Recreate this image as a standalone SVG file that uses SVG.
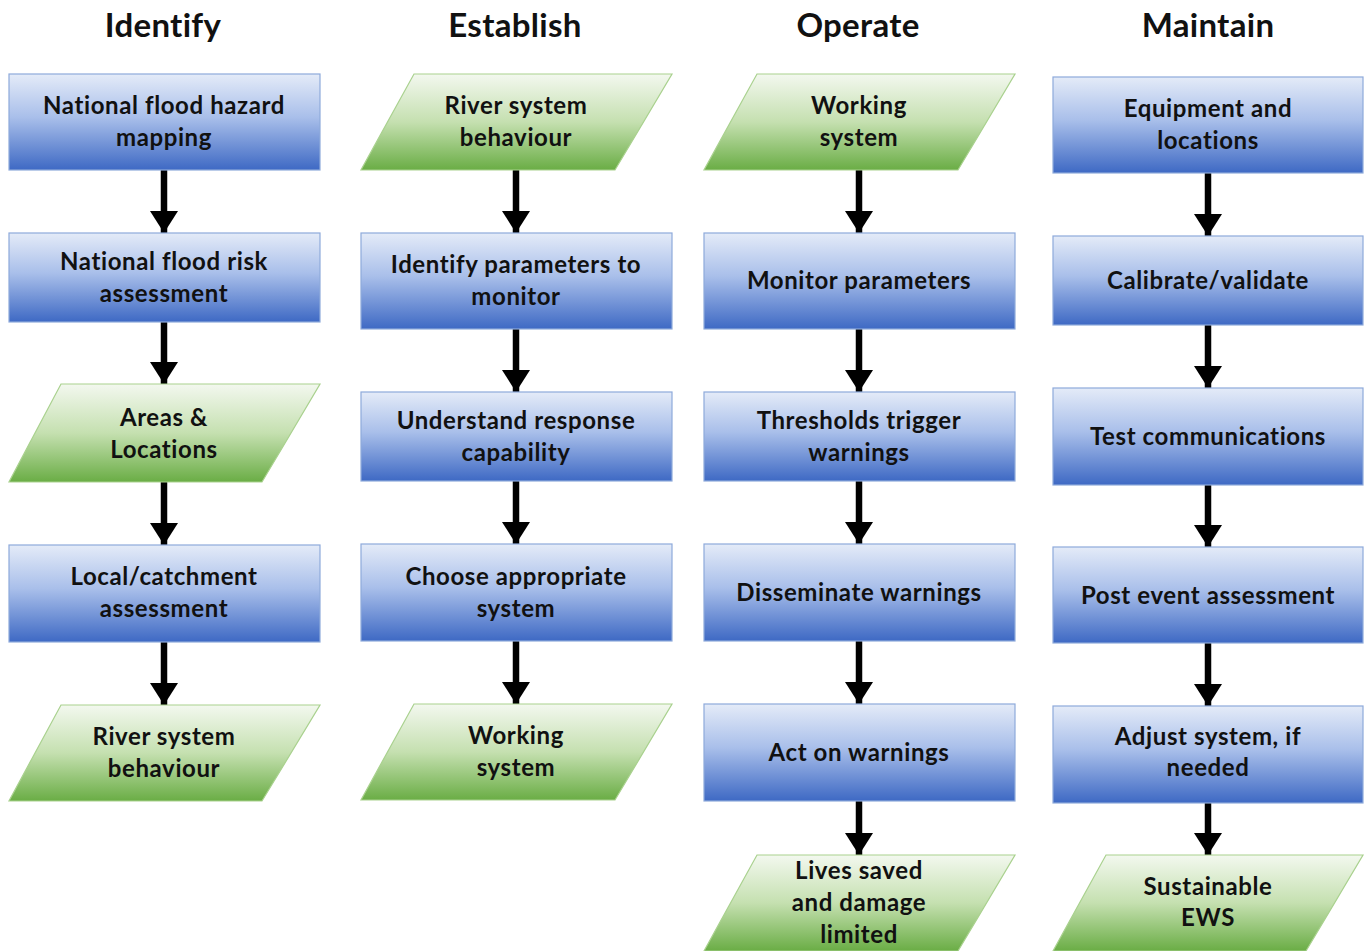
<svg xmlns="http://www.w3.org/2000/svg" width="1366" height="951" viewBox="0 0 1366 951">
<defs>
<linearGradient id="gb" x1="0" y1="0" x2="0" y2="1">
<stop offset="0" stop-color="#e4ebf8"/>
<stop offset="0.45" stop-color="#a9bfea"/>
<stop offset="1" stop-color="#3e69c4"/>
</linearGradient>
<linearGradient id="gg" x1="0" y1="0" x2="0" y2="1">
<stop offset="0" stop-color="#f3f8ef"/>
<stop offset="0.5" stop-color="#c5e0b0"/>
<stop offset="1" stop-color="#6aad45"/>
</linearGradient>
<marker id="ah" markerUnits="userSpaceOnUse" markerWidth="22" markerHeight="28" viewBox="0 0 22 28" refX="22" refY="14" orient="auto">
<path d="M0,0 L22,14 L0,28 z" fill="#000"/>
</marker>
</defs>
<style>
.box{fill:url(#gb);stroke:#8eaadb;stroke-width:1.2}
.para{fill:url(#gg);stroke:#a9d18e;stroke-width:1.2}
text{font-family:Lato,"Open Sans","Liberation Sans",sans-serif;font-weight:bold;fill:#111;text-anchor:middle}
.t{font-size:24px;letter-spacing:0.6px}
.h{font-size:33px;letter-spacing:0.3px}
.arr{stroke:#000;stroke-width:6.5;marker-end:url(#ah)}
</style>
<rect width="1366" height="951" fill="#fff"/>
<g id="headers">
<text class="h" x="163" y="37">Identify</text>
<text class="h" x="515" y="37">Establish</text>
<text class="h" x="858" y="37">Operate</text>
<text class="h" x="1208" y="37">Maintain</text>
</g>
<g id="connectors">
<line class="arr" x1="164" y1="170" x2="164" y2="233"/>
<line class="arr" x1="164" y1="322" x2="164" y2="384"/>
<line class="arr" x1="164" y1="482" x2="164" y2="545"/>
<line class="arr" x1="164" y1="642" x2="164" y2="705"/>
<line class="arr" x1="516" y1="170" x2="516" y2="233"/>
<line class="arr" x1="516" y1="329" x2="516" y2="392"/>
<line class="arr" x1="516" y1="481" x2="516" y2="544"/>
<line class="arr" x1="516" y1="641" x2="516" y2="704"/>
<line class="arr" x1="859" y1="170" x2="859" y2="233"/>
<line class="arr" x1="859" y1="329" x2="859" y2="392"/>
<line class="arr" x1="859" y1="481" x2="859" y2="544"/>
<line class="arr" x1="859" y1="641" x2="859" y2="704"/>
<line class="arr" x1="859" y1="801" x2="859" y2="855"/>
<line class="arr" x1="1208" y1="173" x2="1208" y2="236"/>
<line class="arr" x1="1208" y1="325" x2="1208" y2="388"/>
<line class="arr" x1="1208" y1="485" x2="1208" y2="547"/>
<line class="arr" x1="1208" y1="643" x2="1208" y2="706"/>
<line class="arr" x1="1208" y1="803" x2="1208" y2="855"/>
</g>
<!-- Column 1 -->
<g id="n1-1"><rect class="box" x="9" y="74" width="311" height="96"/><text class="t" x="164" y="114">National flood hazard</text><text class="t" x="164" y="146">mapping</text></g>
<g id="n1-2"><rect class="box" x="9" y="233" width="311" height="89"/><text class="t" x="164" y="270">National flood risk</text><text class="t" x="164" y="302">assessment</text></g>
<g id="n1-3"><polygon class="para" points="61,384 320,384 262,482 9,482"/><text class="t" x="164" y="426">Areas &amp;</text><text class="t" x="164" y="458">Locations</text></g>
<g id="n1-4"><rect class="box" x="9" y="545" width="311" height="97"/><text class="t" x="164" y="585">Local/catchment</text><text class="t" x="164" y="617">assessment</text></g>
<g id="n1-5"><polygon class="para" points="61,705 320,705 262,801 9,801"/><text class="t" x="164" y="745">River system</text><text class="t" x="164" y="777">behaviour</text></g>
<!-- Column 2 -->
<g id="n2-1"><polygon class="para" points="414,74 672,74 615,170 361,170"/><text class="t" x="516" y="114">River system</text><text class="t" x="516" y="146">behaviour</text></g>
<g id="n2-2"><rect class="box" x="361" y="233" width="311" height="96"/><text class="t" x="516" y="273">Identify parameters to</text><text class="t" x="516" y="305">monitor</text></g>
<g id="n2-3"><rect class="box" x="361" y="392" width="311" height="89"/><text class="t" x="516" y="429">Understand response</text><text class="t" x="516" y="461">capability</text></g>
<g id="n2-4"><rect class="box" x="361" y="544" width="311" height="97"/><text class="t" x="516" y="585">Choose appropriate</text><text class="t" x="516" y="617">system</text></g>
<g id="n2-5"><polygon class="para" points="414,704 672,704 615,800 361,800"/><text class="t" x="516" y="744">Working</text><text class="t" x="516" y="776">system</text></g>
<!-- Column 3 -->
<g id="n3-1"><polygon class="para" points="757,74 1015,74 958,170 704,170"/><text class="t" x="859" y="114">Working</text><text class="t" x="859" y="146">system</text></g>
<g id="n3-2"><rect class="box" x="704" y="233" width="311" height="96"/><text class="t" x="859" y="289">Monitor parameters</text></g>
<g id="n3-3"><rect class="box" x="704" y="392" width="311" height="89"/><text class="t" x="859" y="429">Thresholds trigger</text><text class="t" x="859" y="461">warnings</text></g>
<g id="n3-4"><rect class="box" x="704" y="544" width="311" height="97"/><text class="t" x="859" y="601">Disseminate warnings</text></g>
<g id="n3-5"><rect class="box" x="704" y="704" width="311" height="97"/><text class="t" x="859" y="761">Act on warnings</text></g>
<g id="n3-6"><polygon class="para" points="757,855 1015,855 958,951 704,951"/><text class="t" x="859" y="879">Lives saved</text><text class="t" x="859" y="911">and damage</text><text class="t" x="859" y="943">limited</text></g>
<!-- Column 4 -->
<g id="n4-1"><rect class="box" x="1053" y="77" width="310" height="96"/><text class="t" x="1208" y="117">Equipment and</text><text class="t" x="1208" y="149">locations</text></g>
<g id="n4-2"><rect class="box" x="1053" y="236" width="310" height="89"/><text class="t" x="1208" y="289">Calibrate/validate</text></g>
<g id="n4-3"><rect class="box" x="1053" y="388" width="310" height="97"/><text class="t" x="1208" y="445">Test communications</text></g>
<g id="n4-4"><rect class="box" x="1053" y="547" width="310" height="96"/><text class="t" x="1208" y="604">Post event assessment</text></g>
<g id="n4-5"><rect class="box" x="1053" y="706" width="310" height="97"/><text class="t" x="1208" y="745">Adjust system, if</text><text class="t" x="1208" y="776">needed</text></g>
<g id="n4-6"><polygon class="para" points="1106,855 1363,855 1306,951 1053,951"/><text class="t" x="1208" y="895">Sustainable</text><text class="t" x="1208" y="926">EWS</text></g>
</svg>
